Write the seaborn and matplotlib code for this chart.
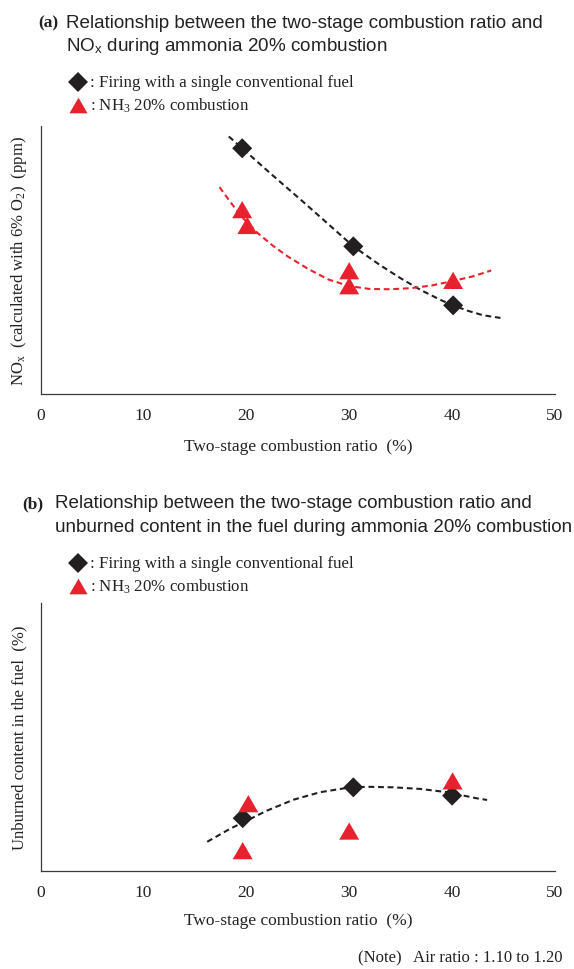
import matplotlib
matplotlib.use("Agg")
import matplotlib.pyplot as plt
import seaborn as sns
import pandas as pd
from matplotlib.lines import Line2D
from matplotlib.markers import MarkerStyle

# ---------------- data ----------------
ratio_ticks = [0, 10, 20, 30, 40, 50]

# (a) NOx (relative scale, axis top = 100)
ratio_conv_a = [19.6, 30.4, 40.1]
nox_conv = [91.8, 55.2, 33.2]
ratio_nh3_a = [19.6, 20.1, 30.0, 30.0, 40.1]
nox_nh3 = [68.9, 63.0, 46.1, 40.5, 42.5]

trend_conv_a_x = [18.3, 19.6, 22.5, 25.5, 28.5, 30.4, 33.0, 35.0, 37.0, 39.0, 40.1, 41.5, 43.0, 44.7]
trend_conv_a_y = [96.2, 91.8, 81.9, 71.9, 61.7, 55.2, 48.2, 43.3, 38.8, 35.0, 33.2, 31.2, 29.5, 28.5]
trend_nh3_a_x = [17.4, 18.5, 19.5, 21.0, 22.5, 24.0, 26.0, 28.0, 30.0, 32.0, 34.0, 36.0, 38.0, 40.0, 42.0, 43.8]
trend_nh3_a_y = [77.3, 71.5, 66.5, 60.5, 55.7, 51.5, 46.8, 42.8, 40.4, 39.3, 39.2, 39.6, 40.6, 42.2, 44.0, 46.2]

# (b) unburned content (relative scale, axis top = 100)
ratio_conv_b = [19.65, 30.4, 40.0]
unb_conv = [19.8, 31.3, 28.2]
ratio_nh3_b = [20.2, 19.65, 30.0, 40.05]
unb_nh3 = [25.2, 7.7, 15.0, 33.7]

trend_conv_b_x = [16.2, 18.4, 20.0, 22.0, 24.6, 27.2, 29.8, 31.7, 34.3, 36.9, 39.5, 42.4, 43.4]
trend_conv_b_y = [11.0, 15.8, 18.8, 22.6, 26.7, 29.5, 31.1, 31.5, 31.3, 30.7, 29.5, 27.2, 26.6]

# ---------------- style ----------------
sns.set_theme(style="white")
plt.rcParams["font.family"] = ["Liberation Serif", "DejaVu Serif"]
plt.rcParams["mathtext.fontset"] = "custom"
plt.rcParams["mathtext.rm"] = "Liberation Serif"
plt.rcParams["mathtext.sf"] = "Liberation Sans"
plt.rcParams["mathtext.it"] = "Liberation Serif:italic"

BLACK = "#231f20"
RED = "#e8212e"
AXC = "#3a3a3a"
W, H = 574, 970

fig = plt.figure(figsize=(W / 100, H / 100), dpi=100)
fig.patch.set_facecolor("white")

tri = MarkerStyle([(-1, -0.866), (1, -0.866), (0, 0.866)])
S_DIA = 104
S_TRI = 205


def fx(px):
    return px / W


def fy(py):
    return 1 - py / H


def make_axes(top_px, bottom_px):
    left, right = 40.5, 555
    return fig.add_axes([fx(left), fy(bottom_px), (right - left) / W, (bottom_px - top_px) / H])


def style_axes(ax, ylabel, xlabel_off):
    ax.set_xlim(0, 50)
    ax.set_ylim(0, 100)
    ax.set_xticks(ratio_ticks)
    ax.set_xticklabels([str(t) for t in ratio_ticks])
    ax.set_yticks([100])
    ax.set_yticklabels([""])
    for s in ["top", "right"]:
        ax.spines[s].set_visible(False)
    for s in ["left", "bottom"]:
        ax.spines[s].set_color(AXC)
        ax.spines[s].set_linewidth(0.9)
    ax.tick_params(axis="x", direction="in", length=4, width=0.9, color=AXC,
                   pad=9, labelsize=12.5, labelcolor="#222222")
    ax.tick_params(axis="y", direction="in", length=4.5, width=0.9, color=AXC)
    ax.set_xlabel("Two-stage combustion ratio  (%)", fontsize=12.5, color="#222222", va="center")
    ax.xaxis.set_label_coords(0.5, xlabel_off)
    ax.set_ylabel(ylabel, fontsize=12, color="#222222", va="center")
    ax.yaxis.set_label_coords(-(40.5 - 19) / 514.5, 0.5)
    ax.grid(False)
    ax.set_facecolor("white")


def trend(ax, xs, ys, color):
    df = pd.DataFrame({"x": xs, "y": ys})
    sns.lineplot(data=df, x="x", y="y", ax=ax, color=color, linewidth=1.5,
                 sort=False, estimator=None, zorder=2)
    ax.lines[-1].set_dashes((2.8, 1.8))


def points(ax, xs, ys, marker, s, color):
    sns.scatterplot(x=xs, y=ys, ax=ax, marker=marker, s=s, color=color,
                    linewidth=0, edgecolor="none", zorder=3)


def header(tag, tag_x, text_x, y1, line1, line2):
    fig.text(fx(tag_x), fy(y1), tag, fontsize=12.5, fontweight="bold",
             family=["Liberation Serif"], va="center", ha="left", color="#222222")
    fig.text(fx(text_x), fy(y1), line1, fontsize=13.6, family=["Liberation Sans"],
             va="center", ha="left", color="#222222")
    fig.text(fx(text_x), fy(y1 + 23.5), line2, fontsize=13.6, family=["Liberation Sans"],
             va="center", ha="left", color="#222222")


def legend(y1):
    fig.add_artist(Line2D([fx(78)], [fy(y1)], marker="D", markersize=10, color=BLACK,
                          markeredgewidth=0, transform=fig.transFigure))
    fig.add_artist(Line2D([fx(78)], [fy(y1 + 23)], marker=tri, markersize=13, color=RED,
                          markeredgewidth=0, transform=fig.transFigure))
    fig.text(fx(90), fy(y1), ": Firing with a single conventional fuel", fontsize=12.2,
             va="center", ha="left", color="#222222")
    fig.text(fx(90), fy(y1 + 23), ": NH$_\\mathrm{3}$ 20% combustion", fontsize=12.2,
             va="center", ha="left", color="#222222")


# ---------------- panel (a) ----------------
header("(a)", 38, 66, 23, "Relationship between the two-stage combustion ratio and",
       "NO$_\\mathsf{x}$ during ammonia 20% combustion")
legend(83)
ax_a = make_axes(127.3, 395.3)
trend(ax_a, trend_conv_a_x, trend_conv_a_y, BLACK)
trend(ax_a, trend_nh3_a_x, trend_nh3_a_y, RED)
points(ax_a, ratio_conv_a, nox_conv, "D", S_DIA, BLACK)
points(ax_a, ratio_nh3_a, nox_nh3, tri, S_TRI, RED)
style_axes(ax_a, "NO$_\\mathrm{x}$  (calculated with 6% O$_\\mathrm{2}$)  (ppm)", -51.7 / 268)

# ---------------- panel (b) ----------------
header("(b)", 22, 55, 504, "Relationship between the two-stage combustion ratio and",
       "unburned content in the fuel during ammonia 20% combustion")
legend(564)
ax_b = make_axes(604, 872.3)
trend(ax_b, trend_conv_b_x, trend_conv_b_y, BLACK)
points(ax_b, ratio_conv_b, unb_conv, "D", S_DIA, BLACK)
points(ax_b, ratio_nh3_b, unb_nh3, tri, S_TRI, RED)
style_axes(ax_b, "Unburned content in the fuel  (%)", -48.7 / 268.3)

fig.text(fx(562), fy(958), "(Note)   Air ratio : 1.10 to 1.20", fontsize=12,
         ha="right", va="center", color="#222222")

fig.savefig("out.png", dpi=100, facecolor="white")
